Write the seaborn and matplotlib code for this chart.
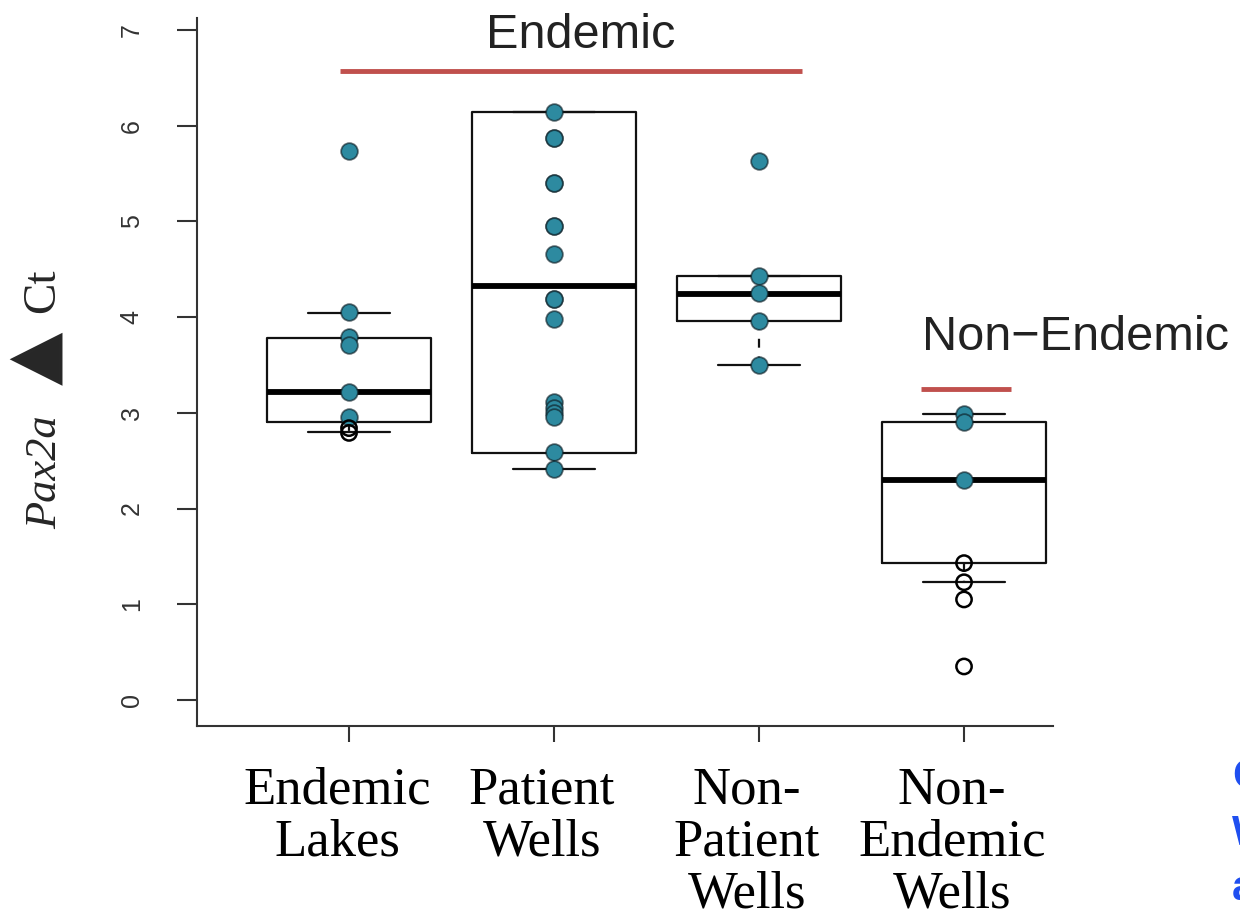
import matplotlib
matplotlib.use("Agg")
import matplotlib.pyplot as plt
import matplotlib.transforms as mtransforms
import seaborn as sns
import pandas as pd

# ---------------- data ----------------
categories = ["Endemic\nLakes", "Patient\nWells", "Non-\nPatient\nWells", "Non-\nEndemic\nWells"]

# five-number summaries shown by the boxes (lower whisker, Q1, median, Q3, upper whisker)
box_lakes = [2.80, 2.90, 3.22, 3.78, 4.04]
box_patient = [2.41, 2.58, 4.32, 6.14, 6.14]
box_nonpatient = [3.50, 3.96, 4.24, 4.43, 4.43]
box_nonendemic = [1.23, 1.43, 2.30, 2.90, 2.99]

# individual samples (filled teal points)
pts_lakes = [5.74, 4.05, 3.79, 3.71, 3.22, 2.96]
pts_patient = [6.14, 5.87, 5.87, 5.40, 5.40, 4.95, 4.95, 4.66, 4.19, 4.19, 3.98,
               3.11, 3.05, 3.00, 2.96, 2.59, 2.41]
pts_nonpatient = [5.63, 4.43, 4.25, 3.96, 3.50]
pts_nonendemic = [2.99, 2.90, 2.30]

# open circles
open_lakes = [2.84, 2.79]
open_nonendemic = [1.43, 1.23, 1.05, 0.35]

group_labels = ["Endemic", "Non\u2212Endemic"]

# ---------------- frames ----------------
box_df = pd.DataFrame({
    "group": sum([[c] * 5 for c in categories], []),
    "value": box_lakes + box_patient + box_nonpatient + box_nonendemic,
})
pts_df = pd.DataFrame({
    "group": [categories[0]] * len(pts_lakes) + [categories[1]] * len(pts_patient)
    + [categories[2]] * len(pts_nonpatient) + [categories[3]] * len(pts_nonendemic),
    "value": pts_lakes + pts_patient + pts_nonpatient + pts_nonendemic,
})
open_df = pd.DataFrame({
    "group": [categories[0]] * len(open_lakes) + [categories[3]] * len(open_nonendemic),
    "value": open_lakes + open_nonendemic,
})

# ---------------- figure ----------------
sns.set_style("white")
plt.rcParams["font.family"] = ["Liberation Sans", "DejaVu Sans"]

fig = plt.figure(figsize=(12.4, 9.23), dpi=100)
ax = fig.add_axes([197 / 1240, 1 - 726 / 923, (1053 - 197) / 1240, (726 - 18) / 923])

sns.boxplot(data=box_df, x="group", y="value", order=categories, ax=ax,
            fill=False, color="#111111", width=0.8, linewidth=1.6,
            showfliers=False,
            whiskerprops=dict(linestyle=(0, (4, 4)), linewidth=1.6),
            medianprops=dict(linewidth=4.2, color="black"))

teal = "#2d8aa0"
sns.stripplot(data=pts_df, x="group", y="value", order=categories, ax=ax,
              jitter=False, color=teal, size=12,
              edgecolor=(0.05, 0.12, 0.15, 0.65), linewidth=1.3, zorder=4)
sns.stripplot(data=open_df, x="group", y="value", order=categories, ax=ax,
              jitter=False, color="none", size=11,
              edgecolor="black", linewidth=1.8, zorder=4)

ax.set_xlim(-0.7415, 3.434)
ax.set_ylim(-0.272, 7.125)
ax.set_yticks(range(0, 8))
ax.set_xlabel("")
ax.set_ylabel("")

for s in ["top", "right"]:
    ax.spines[s].set_visible(False)
for s in ["left", "bottom"]:
    ax.spines[s].set_color("#333333")
    ax.spines[s].set_linewidth(1.5)

ax.tick_params(axis="y", direction="out", length=14.4, width=1.5, color="#333333",
               labelsize=18, labelcolor="#333333", pad=24, labelrotation=90, left=True)
ax.tick_params(axis="x", direction="out", length=11.5, width=1.5, color="#333333",
               labelsize=38, labelcolor="black", pad=18, bottom=True)
for lab in ax.get_yticklabels():
    lab.set_va("center")
for lab in ax.get_xticklabels():
    lab.set_fontfamily(["Liberation Serif", "DejaVu Serif"])
    lab.set_linespacing(1.1)
    lab.set_multialignment("center")
    lab.set_transform(lab.get_transform() + mtransforms.ScaledTranslation(-0.12, 0, fig.dpi_scale_trans))

# group annotations
red = "#c0504d"
ax.plot([-0.044, 2.21], [6.57, 6.57], color=red, lw=3.5, solid_capstyle="butt", zorder=2)
ax.plot([2.79, 3.23], [3.25, 3.25], color=red, lw=3.5, solid_capstyle="butt", zorder=2)
ax.text(1.13, 6.81, group_labels[0], ha="center", va="baseline", fontsize=35, color="#222222")
ax.text(2.795, 3.66, group_labels[1], ha="left", va="baseline", fontsize=35, color="#222222",
        clip_on=False)

# y axis label built from pieces
fig.text(45 / 1240, 1 - 472 / 923, "Pax2a", rotation=90, ha="center", va="center",
         fontsize=32, fontstyle="italic", family=["Liberation Serif", "DejaVu Serif"])
fig.text(35 / 1240, 1 - 358 / 923, "\u25B2", rotation=90, ha="center", va="center",
         fontsize=50, family=["DejaVu Sans"])
fig.text(43 / 1240, 1 - 291 / 923, "Ct", rotation=90, ha="center", va="center",
         fontsize=34, family=["Liberation Serif", "DejaVu Serif"])

# clipped blue text at the right edge (as in the reference)
blue = "#1f4ff0"
for ytxt, t in [(788, "G"), (845, "W"), (900, "a")]:
    fig.text(1232 / 1240, 1 - ytxt / 923, t, ha="left", va="baseline", fontsize=30,
             color=blue, fontweight="bold")

fig.savefig("out.png", dpi=100)
